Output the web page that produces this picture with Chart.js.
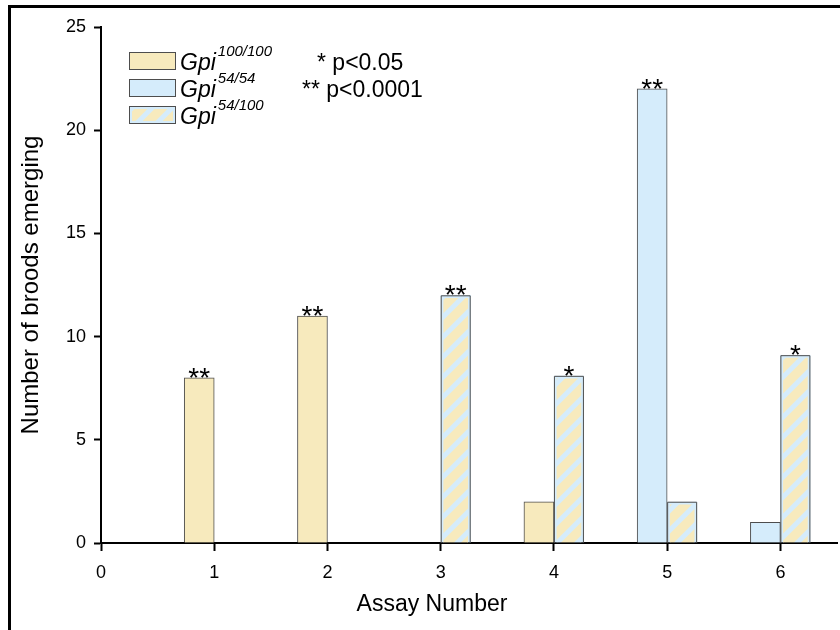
<!DOCTYPE html>
<html>
<head>
<meta charset="utf-8">
<script src="https://cdn.jsdelivr.net/npm/chart.js@4.4.0/dist/chart.umd.min.js"></script>
<style>
  html, body { margin: 0; padding: 0; background: #fff; }
  #wrap { position: relative; width: 840px; height: 630px; }
</style>
</head>
<body>
<div id="wrap"><canvas id="broods"></canvas></div>
<script>
const assays = [1, 2, 3, 4, 5, 6];
const homo100 = [8, 11, null, 2, null, null];
const homo54 = [null, null, null, null, 22, 1];
const hetero = [null, null, 12, 8.1, 2, 9.1];
const sigHomo100 = ["**", "**", "", "", "", ""];
const sigHomo54 = ["", "", "", "", "**", ""];
const sigHetero = ["", "", "**", "*", "", "*"];
const genotypes = ["100/100", "54/54", "54/100"];
const sigNotes = ["* p<0.05", "** p<0.0001"];
const xTicks = [0, 1, 2, 3, 4, 5, 6];
const yTicks = [0, 5, 10, 15, 20, 25];

const yellow = "#f7eabd";
const blue = "#d5ecfb";
const edge = "#4d4d4d";
const font = "'Liberation Sans', Arial, sans-serif";

// yellow ground with light blue "/" stripes for the heterozygotes
function stripes() {
  const c = document.createElement("canvas");
  c.width = c.height = 20;
  const g = c.getContext("2d");
  g.fillStyle = yellow;
  g.fillRect(0, 0, 20, 20);
  g.strokeStyle = blue;
  g.lineWidth = 5;
  g.beginPath();
  g.moveTo(-5, 25); g.lineTo(25, -5);
  g.moveTo(-5, 5); g.lineTo(5, -5);
  g.moveTo(15, 25); g.lineTo(25, 15);
  g.stroke();
  return g.createPattern(c, "repeat");
}
const hatch = stripes();

// page frame and the x axis title
const frame = {
  id: "frame",
  beforeDraw(chart) {
    const ctx = chart.ctx;
    ctx.save();
    ctx.fillStyle = "#000";
    ctx.fillRect(8, 5, 3, 625);
    ctx.fillRect(8, 5, 832, 3);
    ctx.restore();
  },
  afterDraw(chart) {
    const ctx = chart.ctx;
    ctx.save();
    ctx.fillStyle = "#000";
    ctx.font = "23px " + font;
    ctx.textAlign = "center";
    ctx.textBaseline = "middle";
    ctx.fillText("Assay Number", 432, 605);
    ctx.restore();
  }
};

// dark outline round the rimmed bars, and the significance stars
const marks = {
  id: "marks",
  afterDatasetsDraw(chart) {
    const ctx = chart.ctx;
    ctx.save();
    chart.data.datasets.forEach((ds, i) => {
      const meta = chart.getDatasetMeta(i);
      meta.data.forEach((bar, j) => {
        if (ds.data[j] == null) return;
        const left = bar.x - bar.width / 2;
        if (ds.outline) {
          ctx.strokeStyle = ds.outline;
          ctx.lineWidth = 1;
          ctx.beginPath();
          ctx.moveTo(left + 0.5, bar.base);
          ctx.lineTo(left + 0.5, bar.y + 0.5);
          ctx.lineTo(left + bar.width - 0.5, bar.y + 0.5);
          ctx.lineTo(left + bar.width - 0.5, bar.base);
          ctx.stroke();
        }
        const s = ds.stars[j];
        if (s) {
          ctx.fillStyle = "#000";
          ctx.font = "28px " + font;
          ctx.textAlign = "center";
          ctx.textBaseline = "alphabetic";
          ctx.fillText(s, bar.x, bar.y + 9);
        }
      });
    });
    ctx.restore();
  }
};

const legend = {
  id: "genoLegend",
  afterDraw(chart) {
    const ctx = chart.ctx;
    ctx.save();
    chart.data.datasets.forEach((ds, i) => {
      const top = 52 + i * 27;
      ctx.fillStyle = ds.backgroundColor;
      ctx.fillRect(129, top, 47, 18);
      if (ds.outline) {
        ctx.strokeStyle = blue;
        ctx.lineWidth = 3;
        ctx.strokeRect(130.5, top + 1.5, 44, 15);
      }
      ctx.strokeStyle = edge;
      ctx.lineWidth = 1;
      ctx.strokeRect(129.5, top + 0.5, 46, 17);
      ctx.fillStyle = "#000";
      ctx.textAlign = "left";
      ctx.textBaseline = "alphabetic";
      ctx.font = "italic 23px " + font;
      ctx.fillText("Gpi", 180, top + 18);
      const w = ctx.measureText("Gpi").width;
      ctx.font = "italic 15px " + font;
      ctx.fillText(genotypes[i], 180 + w + 2, top + 4);
    });
    ctx.font = "23px " + font;
    ctx.fillText(sigNotes[0], 317, 70);
    ctx.fillText(sigNotes[1], 302, 97);
    ctx.restore();
  }
};

new Chart(document.getElementById("broods"), {
  type: "bar",
  data: {
    labels: assays,
    datasets: [
      {
        label: "Gpi 100/100",
        data: homo100,
        stars: sigHomo100,
        stack: "single",
        backgroundColor: yellow,
        borderColor: edge,
        borderWidth: 1
      },
      {
        label: "Gpi 54/54",
        data: homo54,
        stars: sigHomo54,
        stack: "single",
        backgroundColor: blue,
        borderColor: edge,
        borderWidth: 1
      },
      {
        label: "Gpi 54/100",
        data: hetero,
        stars: sigHetero,
        stack: "hybrid",
        backgroundColor: hatch,
        borderColor: blue,
        borderWidth: 3,
        outline: edge
      }
    ]
  },
  options: {
    responsive: true,
    maintainAspectRatio: false,
    animation: false,
    barThickness: 30,
    layout: { padding: { top: 27, right: 3, left: 0, bottom: 0 } },
    plugins: {
      legend: { display: false },
      tooltip: { enabled: false }
    },
    scales: {
      x: {
        type: "linear",
        min: 0,
        max: 6.5,
        offset: false,
        afterBuildTicks: (s) => { s.ticks = xTicks.map((v) => ({ value: v })); },
        afterFit: (s) => { s.height = 87; },
        grid: { offset: false, drawOnChartArea: false, drawTicks: true, tickLength: 8, tickWidth: 2, tickColor: "#000" },
        border: { display: true, color: "#000", width: 2 },
        ticks: { color: "#000", font: { family: font, size: 18 }, padding: 11, maxRotation: 0 }
      },
      y: {
        min: 0,
        max: 25,
        afterBuildTicks: (s) => { s.ticks = yTicks.map((v) => ({ value: v })); },
        afterFit: (s) => { s.width = 101; },
        grid: { drawOnChartArea: false, drawTicks: true, tickLength: 7, tickWidth: 2, tickColor: "#000" },
        border: { display: true, color: "#000", width: 2 },
        ticks: { color: "#000", font: { family: font, size: 18 }, padding: 8 },
        title: {
          display: true,
          text: "Number of broods emerging",
          color: "#000",
          font: { family: font, size: 24 },
          padding: { top: 17, bottom: 0 }
        }
      }
    }
  },
  plugins: [frame, marks, legend]
});
</script>
</body>
</html>
